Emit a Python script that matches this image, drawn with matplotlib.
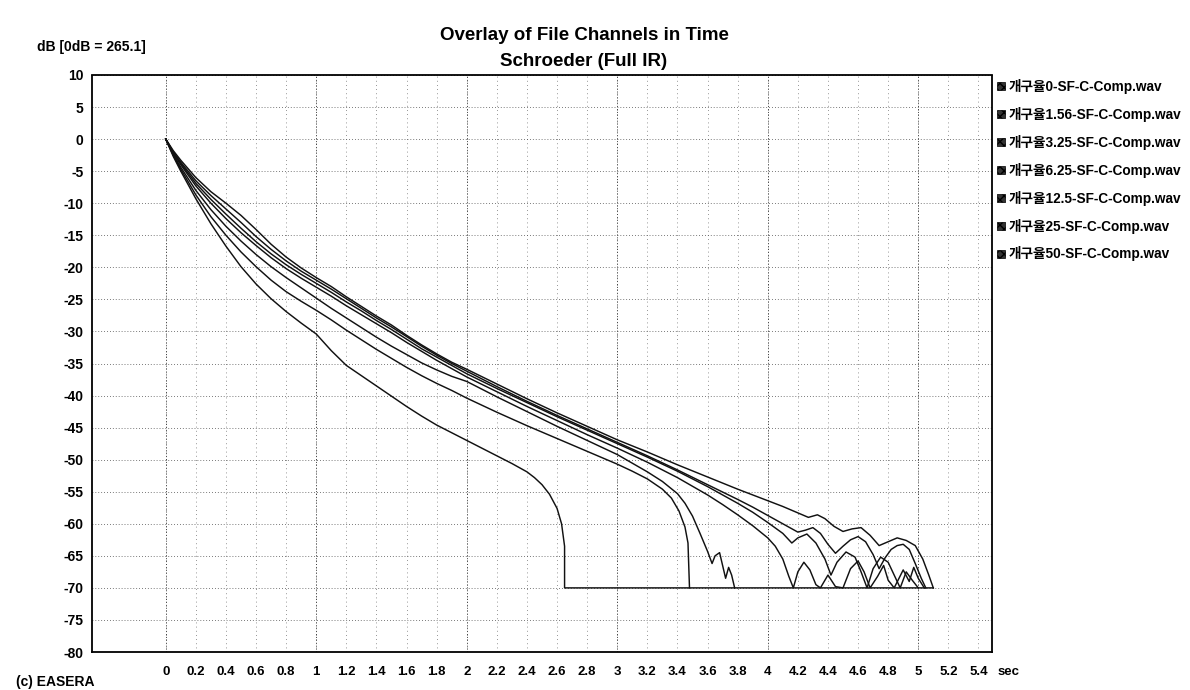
import matplotlib
matplotlib.use("Agg")
import matplotlib.pyplot as plt

plt.rcParams["font.family"] = ["Liberation Sans", "Noto Sans CJK KR", "DejaVu Sans"]

# ---- data: Schroeder backward-integrated decay curves (time in s, level in dB) ----
series_labels = [
    "개구율0-SF-C-Comp.wav",
    "개구율1.56-SF-C-Comp.wav",
    "개구율3.25-SF-C-Comp.wav",
    "개구율6.25-SF-C-Comp.wav",
    "개구율12.5-SF-C-Comp.wav",
    "개구율25-SF-C-Comp.wav",
    "개구율50-SF-C-Comp.wav",
]

t_start = [0, 0.05, 0.1, 0.2, 0.3, 0.4, 0.5, 0.6, 0.7, 0.8, 0.9, 1.0,
           1.1, 1.2, 1.3, 1.4, 1.5, 1.6, 1.7, 1.8, 1.9, 2.0]

db_start_0 = [0, -1.8, -3.3, -6.0, -8.2, -10.0, -11.9, -14.1, -16.4, -18.4, -20.1,
              -21.6, -23.0, -24.6, -26.1, -27.6, -29.0, -30.6, -32.1, -33.5, -34.8, -35.9]
db_start_156 = [0, -2.0, -3.6, -6.5, -8.8, -10.9, -13.0, -15.2, -17.2, -19.0, -20.6,
                -22.0, -23.4, -24.9, -26.4, -27.9, -29.3, -30.8, -32.3, -33.7, -35.0, -36.2]
db_start_325 = [0, -2.1, -3.8, -6.9, -9.4, -11.7, -13.9, -16.0, -17.9, -19.6, -21.1,
                -22.5, -23.9, -25.4, -26.8, -28.3, -29.7, -31.2, -32.7, -34.0, -35.3, -36.6]
db_start_625 = [0, -2.2, -4.0, -7.3, -10.0, -12.4, -14.6, -16.6, -18.5, -20.2, -21.7,
                -23.1, -24.5, -26.0, -27.4, -28.8, -30.2, -31.7, -33.1, -34.5, -35.8, -37.1]
db_start_125 = [0, -2.4, -4.4, -8.0, -11.0, -13.6, -15.9, -18.0, -19.9, -21.6, -23.2,
                -24.8, -26.4, -27.9, -29.4, -30.9, -32.3, -33.6, -34.9, -36.0, -37.0, -37.8]
db_start_25 = [0, -2.5, -4.7, -8.7, -12.1, -15.0, -17.6, -19.9, -22.0, -23.8, -25.3,
               -26.7, -28.2, -29.8, -31.3, -32.8, -34.2, -35.6, -36.9, -38.1, -39.2, -40.4]
db_start_50 = [0, -2.7, -5.0, -9.3, -13.2, -16.7, -19.9, -22.6, -24.9, -26.9, -28.7,
               -30.4, -33.0, -35.3, -36.9, -38.5, -40.1, -41.7, -43.2, -44.6, -45.8, -47.0]

# late decay and noise floor of each channel
t_tail_0 = [2.2, 2.4, 2.6, 2.8, 3.0, 3.2, 3.4, 3.6, 3.8, 4.0, 4.1, 4.2, 4.27, 4.33, 4.38,
            4.44, 4.5, 4.56, 4.62, 4.68, 4.74, 4.8, 4.86, 4.92, 4.98, 5.03, 5.07, 5.1]
db_tail_0 = [-38.2, -40.5, -42.7, -44.8, -46.9, -48.8, -50.8, -52.7, -54.6, -56.4, -57.3,
             -58.3, -59.0, -58.6, -59.2, -60.4, -61.2, -60.8, -60.6, -61.8, -63.4, -62.8,
             -62.2, -62.6, -63.4, -65.5, -68.0, -70.0]

t_tail_156 = [2.2, 2.4, 2.6, 2.8, 3.0, 3.2, 3.4, 3.6, 3.8, 3.9, 4.0, 4.1, 4.2, 4.25, 4.3,
              4.35, 4.4, 4.45, 4.5, 4.55, 4.6, 4.65, 4.7, 4.74, 4.78, 4.82, 4.86, 4.9,
              4.94, 4.98, 5.02, 5.05]
db_tail_156 = [-38.6, -40.9, -43.1, -45.2, -47.3, -49.4, -51.6, -53.9, -56.2, -57.4, -58.7,
               -60.0, -61.3, -61.0, -60.6, -61.5, -63.2, -64.6, -63.5, -62.5, -62.0, -62.8,
               -64.8, -67.0, -65.3, -64.0, -63.4, -63.2, -64.0, -66.2, -68.5, -70.0]

t_tail_325 = [2.2, 2.4, 2.6, 2.8, 3.0, 3.2, 3.4, 3.6, 3.8, 3.9, 4.0, 4.1, 4.16, 4.2, 4.26,
              4.32, 4.38, 4.42, 4.46, 4.52, 4.58, 4.62, 4.66, 4.7, 4.75, 4.8, 4.85, 4.88,
              4.92, 4.96, 5.0]
db_tail_325 = [-38.9, -41.1, -43.3, -45.4, -47.5, -49.6, -51.8, -54.2, -56.8, -58.2, -59.8,
               -61.5, -63.0, -62.2, -61.6, -63.0, -65.5, -68.0, -66.0, -64.4, -65.2, -67.5,
               -70.0, -67.0, -65.2, -66.0, -68.5, -70.0, -67.5, -68.8, -70.0]

t_tail_625 = [2.2, 2.4, 2.6, 2.8, 3.0, 3.2, 3.4, 3.6, 3.7, 3.8, 3.9, 4.0, 4.05, 4.1, 4.14,
              4.17, 4.2, 4.24, 4.28, 4.32, 4.35, 4.4, 4.45, 4.5, 4.55, 4.6, 4.64, 4.68,
              4.73, 4.77, 4.8, 4.84, 4.9, 4.94, 4.97, 5.0, 5.04]
db_tail_625 = [-39.4, -41.7, -43.9, -46.1, -48.2, -50.4, -52.8, -55.5, -57.0, -58.6, -60.3,
               -62.2, -63.5, -65.5, -68.2, -70.0, -67.5, -66.0, -67.2, -69.5, -70.0, -68.0,
               -69.8, -70.0, -67.0, -65.8, -67.5, -70.0, -68.2, -66.5, -68.8, -70.0, -67.2,
               -69.0, -66.8, -68.5, -70.0]

t_tail_125 = [2.2, 2.4, 2.6, 2.8, 3.0, 3.2, 3.3, 3.4, 3.45, 3.5, 3.55, 3.6, 3.63, 3.65,
              3.68, 3.7, 3.72, 3.74, 3.76, 3.78]
db_tail_125 = [-40.2, -42.5, -44.8, -47.0, -49.2, -51.9, -53.4, -55.3, -56.8, -58.8, -61.5,
               -64.3, -66.2, -65.0, -64.5, -66.5, -68.5, -66.8, -68.0, -70.0]

t_tail_25 = [2.2, 2.4, 2.6, 2.8, 3.0, 3.1, 3.2, 3.3, 3.36, 3.41, 3.45, 3.47, 3.48]
db_tail_25 = [-42.6, -44.7, -46.7, -48.7, -50.7, -51.8, -53.0, -54.6, -56.0, -58.0, -60.5,
              -63.0, -70.0]

t_tail_50 = [2.1, 2.2, 2.3, 2.4, 2.45, 2.5, 2.55, 2.6, 2.63, 2.65, 2.65, 5.1]
db_tail_50 = [-48.2, -49.4, -50.6, -51.9, -52.8, -53.9, -55.4, -57.6, -60.0, -63.5, -70.0, -70.0]

y_ticks = list(range(10, -85, -5))
x_ticks = [0, 0.2, 0.4, 0.6, 0.8, 1, 1.2, 1.4, 1.6, 1.8, 2, 2.2, 2.4, 2.6, 2.8, 3,
           3.2, 3.4, 3.6, 3.8, 4, 4.2, 4.4, 4.6, 4.8, 5, 5.2, 5.4]

curves = [
    (t_start + t_tail_0, db_start_0 + db_tail_0),
    (t_start + t_tail_156, db_start_156 + db_tail_156),
    (t_start + t_tail_325, db_start_325 + db_tail_325),
    (t_start + t_tail_625, db_start_625 + db_tail_625),
    (t_start + t_tail_125, db_start_125 + db_tail_125),
    (t_start + t_tail_25, db_start_25 + db_tail_25),
    (t_start + t_tail_50, db_start_50 + db_tail_50),
]

# ---- figure ----
W, H = 1190, 690
fig = plt.figure(figsize=(W / 100, H / 100), dpi=100)
fig.patch.set_facecolor("white")
ax = fig.add_axes([92 / W, 1 - 652 / H, 900 / W, 577 / H])

ax.set_xlim(-0.49, 5.49)
ax.set_ylim(-80, 10)

# dotted grid: light every 0.2 s, denser every second, every 5 dB
for xv in x_ticks:
    ax.axvline(xv, color="0.45", lw=0.6, ls=(0, (1, 4)), zorder=1)
for xv in [0, 1, 2, 3, 4, 5]:
    ax.axvline(xv, color="0.25", lw=0.7, ls=(0, (1, 2)), zorder=1)
for yv in y_ticks:
    ax.axhline(yv, color="0.3", lw=0.6, ls=(0, (1, 2.5)), zorder=1)

for t, db in curves:
    ax.plot(t, db, color="#111111", lw=1.05, zorder=3)

for sp in ax.spines.values():
    sp.set_color("black")
    sp.set_linewidth(1.3)
    sp.set_linestyle((0, (1, 1)))

ax.set_yticks(y_ticks)
ax.set_yticklabels([str(v) for v in y_ticks], fontsize=10, fontweight="bold")
ax.set_xticks(x_ticks)
ax.set_xticklabels([("%g" % v) for v in x_ticks], fontsize=9.5, fontweight="bold")
ax.tick_params(length=0)
ax.tick_params(axis="y", pad=6)
ax.tick_params(axis="x", pad=10)

fig.text(998 / W, 1 - 672 / H, "sec", fontsize=9.5, fontweight="bold", va="center", ha="left")

# titles and level reference
fig.text(584 / W, 1 - 35 / H, "Overlay of File Channels in Time", fontsize=13.5,
         fontweight="bold", ha="center", va="center")
fig.text(584 / W, 1 - 61 / H, "Schroeder (Full IR)", fontsize=13.5,
         fontweight="bold", ha="center", va="center")
fig.text(37 / W, 1 - 47 / H, "dB [0dB = 265.1]", fontsize=10, fontweight="bold",
         ha="left", va="center")
fig.text(16 / W, 1 - 675 / H, "(c) EASERA", fontsize=10, fontweight="bold",
         ha="left", va="top")

# channel list to the right of the plot
for i, label in enumerate(series_labels):
    yp = 1 - (86 + 28 * i) / H
    fig.patches.append(plt.Rectangle((997 / W, yp - 4 / H), 8 / W, 8 / H,
                                     transform=fig.transFigure, facecolor="#333333",
                                     edgecolor="black", lw=0.5, hatch="xxxx"))
    fig.text(1009 / W, yp, label, fontsize=9.8, fontweight="bold", ha="left", va="center")

fig.savefig("out.png", dpi=100, facecolor="white")
